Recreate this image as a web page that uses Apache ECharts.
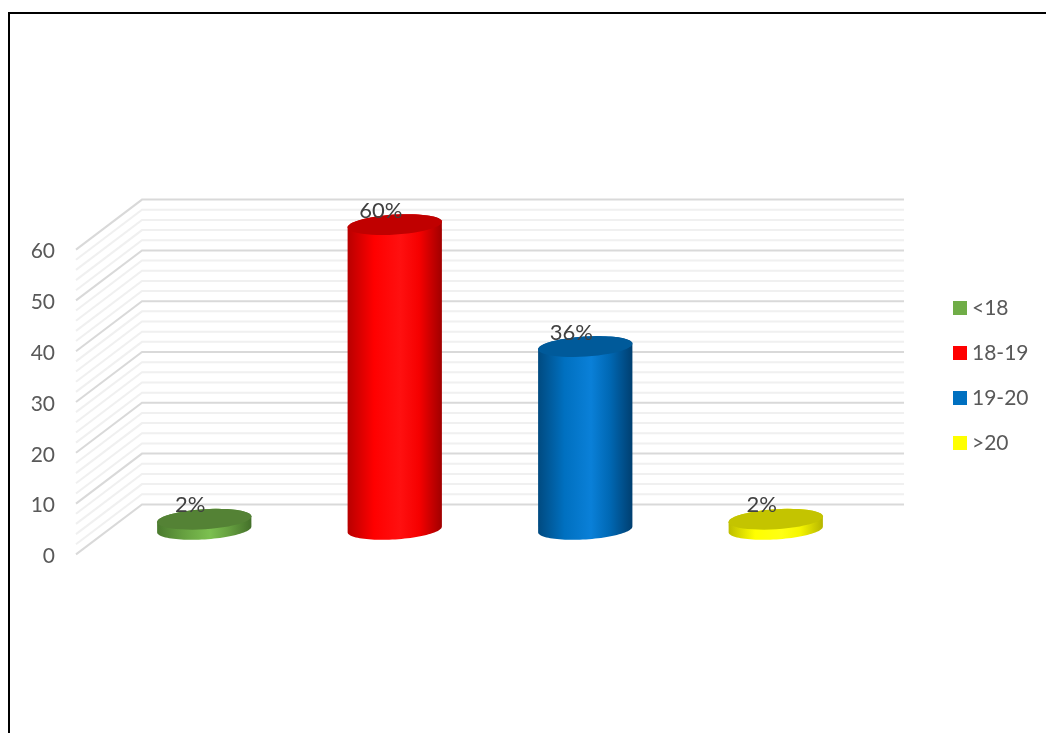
<!DOCTYPE html>
<html>
<head>
<meta charset="utf-8">
<style>
  html, body { margin: 0; padding: 0; background: #fff; }
  #chart { width: 1046px; height: 733px; }
</style>
<script src="https://cdn.jsdelivr.net/npm/echarts@6/dist/echarts.min.js"></script>
</head>
<body>
<div id="chart"></div>
<script>
// Age groups and their share of respondents, in percent.
const ageGroups = ['<18', '18-19', '19-20', '>20'];
const shares = [2, 60, 36, 2];

// Value axis: labelled every 10, with a lighter gridline every 2.
const axisMax = 60;
const axisStep = 10;
const gridTicks = [0, 2, 4, 6, 8, 10, 12, 14, 16, 18, 20, 22, 24, 26, 28, 30,
                   32, 34, 36, 38, 40, 42, 44, 46, 48, 50, 52, 54, 56, 58, 60];

// Per-group shading: legend swatch, cap, and the left-to-right body gradient.
const swatchColors = ['#70AD47', '#FF0000', '#0070C0', '#FFFF00'];
const capColors = ['#548235', '#C00000', '#005A9A', '#C4C400'];
const bodyStops = [
  ['#4A7A2E', '#66A040', '#7CC050', '#66A040', '#44702A'],
  ['#B80000', '#FF0000', '#FF1010', '#F60000', '#A00000'],
  ['#004A80', '#0070C0', '#0A80D8', '#0068B4', '#003F70'],
  ['#BDBD00', '#FFFF00', '#FFFF14', '#F5F500', '#B5B500']
];

// Oblique projection of the floor: the back wall sits up and to the right of the front edge.
const depthX = 66;
const depthY = -50;
const bodyWidthRatio = 0.496;
const capSemiMinor = 10;
const capTilt = 3.6 * Math.PI / 180;

const chart = echarts.init(document.getElementById('chart'));

// Points on the tilted ellipse around (cx, cy) between two angles.
function ellipsePoints(cx, cy, a, from, to) {
  const pts = [];
  const steps = 48;
  const cosT = Math.cos(capTilt);
  const sinT = Math.sin(capTilt);
  for (let i = 0; i <= steps; i++) {
    const t = from + (to - from) * i / steps;
    const px = a * Math.cos(t);
    const py = capSemiMinor * Math.sin(t);
    pts.push([cx + px * cosT + py * sinT, cy - px * sinT + py * cosT]);
  }
  return pts;
}

// One cylinder standing half way back on the floor, with its value printed at the cap.
function renderCylinder(groupIndex) {
  return function (params, api) {
    const value = api.value(1);
    const top = api.coord([api.value(0), value]);
    const base = api.coord([api.value(0), 0]);
    const a = api.size([1, 0])[0] * bodyWidthRatio / 2;
    const cx = top[0] + depthX / 2;
    const topY = top[1] + depthY / 2;
    const baseY = base[1] + depthY / 2;

    const lower = ellipsePoints(cx, baseY, a, 0, Math.PI);
    const tips = ellipsePoints(cx, topY, a, Math.PI, 2 * Math.PI);
    const stops = bodyStops[groupIndex];
    const offsets = [0, 0.28, 0.56, 0.76, 1];

    return {
      type: 'group',
      children: [
        {
          type: 'polygon',
          shape: { points: lower.concat(tips) },
          style: {
            fill: new echarts.graphic.LinearGradient(0, 0, 1, 0,
              stops.map((color, i) => ({ offset: offsets[i], color })))
          }
        },
        {
          type: 'polygon',
          shape: { points: ellipsePoints(cx, topY, a, 0, 2 * Math.PI) },
          style: { fill: capColors[groupIndex] }
        },
        {
          type: 'text',
          z2: 10,
          style: {
            text: value + '%',
            x: top[0] + 19,
            y: top[1] - 39,
            align: 'center',
            verticalAlign: 'middle',
            fill: '#404040',
            font: '22px Lato, sans-serif'
          }
        }
      ]
    };
  };
}

// A gridline runs from the front edge back across the side wall, then along the back wall.
function renderGridline(params, api) {
  const tick = api.value(0);
  const y = api.coord([0, tick])[1];
  const sys = params.coordSys;
  const major = tick % axisStep === 0;
  return {
    type: 'polyline',
    shape: {
      points: [
        [sys.x, y],
        [sys.x + depthX, y + depthY],
        [sys.x + sys.width + depthX, y + depthY]
      ]
    },
    style: {
      fill: null,
      stroke: major ? '#D9D9D9' : '#F0F0F0',
      lineWidth: 2
    }
  };
}

const cylinderSeries = ageGroups.map((name, i) => ({
  name,
  type: 'custom',
  z: 5,
  itemStyle: { color: swatchColors[i] },
  renderItem: renderCylinder(i),
  encode: { x: 0, y: 1 },
  data: [[i, shares[i]]]
}));

chart.setOption({
  animation: false,
  backgroundColor: '#fff',
  grid: { left: 76, top: 249.6, width: 762, height: 304.8, containLabel: false },
  xAxis: {
    type: 'category',
    data: ageGroups,
    axisLine: { show: false },
    axisTick: { show: false },
    axisLabel: { show: false },
    splitLine: { show: false }
  },
  yAxis: {
    type: 'value',
    min: 0,
    max: axisMax,
    interval: axisStep,
    axisLine: { show: false },
    axisTick: { show: false },
    splitLine: { show: false },
    axisLabel: {
      margin: 21,
      color: '#595959',
      fontFamily: 'Lato, sans-serif',
      fontSize: 21,
      verticalAlign: 'top',
      lineHeight: 4
    }
  },
  legend: {
    orient: 'vertical',
    left: 953,
    top: 296,
    padding: 0,
    icon: 'rect',
    itemWidth: 14,
    itemHeight: 14,
    itemGap: 21,
    selectedMode: false,
    data: ageGroups,
    textStyle: {
      color: '#595959',
      fontFamily: 'Lato, sans-serif',
      fontSize: 21,
      lineHeight: 24
    },
    formatter: name => name
  },
  graphic: [
    { type: 'line', silent: true, shape: { x1: 9, y1: 12, x2: 9, y2: 733 }, style: { stroke: '#000', lineWidth: 2 } },
    { type: 'line', silent: true, shape: { x1: 8, y1: 13, x2: 1046, y2: 13 }, style: { stroke: '#000', lineWidth: 2 } }
  ],
  series: [
    {
      name: 'gridlines',
      type: 'custom',
      z: 1,
      silent: true,
      renderItem: renderGridline,
      encode: { y: 0 },
      data: gridTicks.map(t => [t])
    }
  ].concat(cylinderSeries)
});
</script>
</body>
</html>
